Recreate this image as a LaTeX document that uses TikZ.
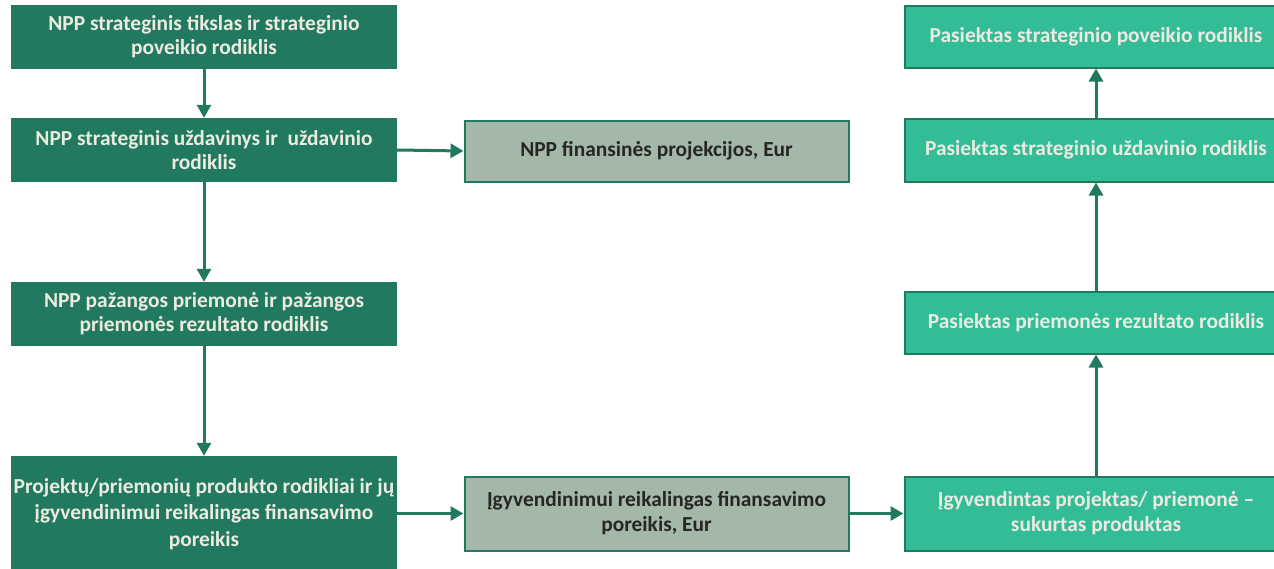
\documentclass[tikz,border=0pt]{standalone}
\usepackage{fontspec}
\setmainfont{Carlito}
\usetikzlibrary{arrows.meta, calc}
\definecolor{darkgreen}{HTML}{217A5F}
\definecolor{tealgreen}{HTML}{33BD97}
\definecolor{greygreen}{HTML}{A3B8A9}
\definecolor{paletext}{HTML}{ECEBE1}
\definecolor{greytext}{HTML}{262626}

\tikzset{
  darkbox/.style={fill=darkgreen, text=paletext, minimum width=386pt,
    align=center, font=\fontsize{21.4}{24}\selectfont\bfseries, inner sep=0pt},
  greybox/.style={fill=greygreen, draw=darkgreen, line width=2pt, text=greytext,
    minimum width=384pt, align=center, font=\fontsize{21.4}{25}\selectfont\bfseries, inner sep=0pt},
  tealbox/.style={fill=tealgreen, draw=darkgreen, line width=2pt, text=paletext,
    minimum width=383pt, align=center, font=\fontsize{21.4}{25}\selectfont\bfseries, inner sep=0pt},
  link/.style={->, draw=darkgreen, line width=3pt}
}

\begin{document}
\begin{tikzpicture}[x=1pt, y=-1pt, >={Triangle[width=14pt, length=13pt]}]
\useasboundingbox (0, 0) rectangle (1274, 568);
% left column
\node[darkbox, minimum height=64pt]  at (204, 37)  (goal) {NPP strateginis tikslas ir strateginio\\poveikio rodiklis};
\node[darkbox, minimum height=64pt]  at (204, 150) (task) {NPP strateginis uždavinys ir \ uždavinio\\rodiklis};
\node[darkbox, minimum height=64pt]  at (204, 314) (measure) {NPP pažangos priemonė ir pažangos\\priemonės rezultato rodiklis};
\node[darkbox, minimum height=116pt, font=\fontsize{21.4}{26.5}\selectfont\bfseries] at (204, 514) (product) {Projektų/priemonių produkto rodikliai ir jų\\įgyvendinimui reikalingas finansavimo\\poreikis};
% middle column
\node[greybox, minimum height=61pt] at (656.5, 151)   (finance) {NPP finansinės projekcijos, Eur};
\node[greybox, minimum height=74pt] at (656.5, 513.5) (need) {Įgyvendinimui reikalingas finansavimo\\poreikis, Eur};
% right column
\node[tealbox, minimum height=62pt] at (1096, 36.5)  (impact) {Pasiektas strateginio poveikio rodiklis};
\node[tealbox, minimum height=63pt] at (1096, 150)   (taskres) {Pasiektas strateginio uždavinio rodiklis};
\node[tealbox, minimum height=62pt] at (1096, 322.5) (result) {Pasiektas priemonės rezultato rodiklis};
\node[tealbox, minimum height=74pt] at (1096, 513.5) (done) {Įgyvendintas projektas/ priemonė --\\sukurtas produktas};
% connectors
\draw[link] (goal) -- (task);
\draw[link] (task) -- (measure);
\draw[link] (measure) -- (product);
\draw[link] (task.east) -- (finance.west);
\draw[link] (product.east |- need.west) -- (need.west);
\draw[link] (need) -- (done);
\draw[link] (done) -- (result);
\draw[link] (result) -- (taskres);
\draw[link] (taskres) -- (impact);
\end{tikzpicture}
\end{document}
